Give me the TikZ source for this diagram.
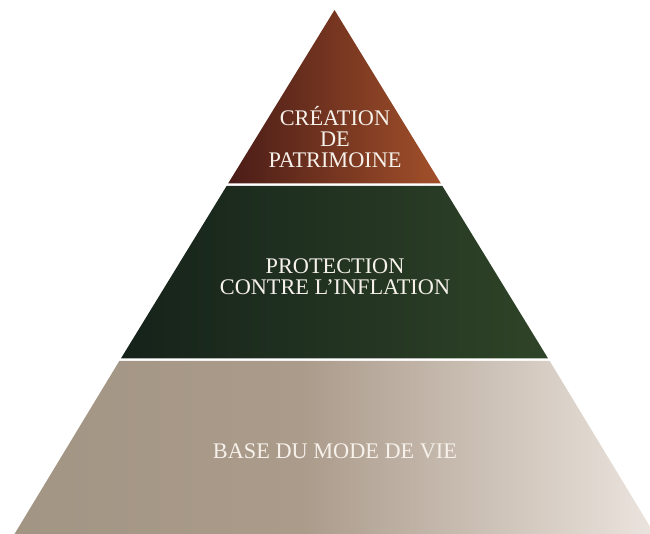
\documentclass[tikz,border=0pt]{standalone}
\usepackage{fontspec}
\setmainfont{Liberation Serif}
\definecolor{topL}{HTML}{4A1C17}
\definecolor{topR}{HTML}{A2502A}
\definecolor{midL}{HTML}{15221A}
\definecolor{midR}{HTML}{2F4428}
\definecolor{botL}{HTML}{A29584}
\definecolor{botM}{HTML}{AB9B8B}
\definecolor{botR}{HTML}{EBE4DE}
\definecolor{txt}{HTML}{F6F1EA}
\pgfdeclarehorizontalshading{topshade}{100bp}{color(0bp)=(topL); color(25bp)=(topL); color(75bp)=(topR); color(100bp)=(topR)}
\pgfdeclarehorizontalshading{midshade}{100bp}{color(0bp)=(midL); color(25bp)=(midL); color(75bp)=(midR); color(100bp)=(midR)}
\pgfdeclarehorizontalshading{botshade}{100bp}{color(0bp)=(botL); color(25bp)=(botL); color(47.5bp)=(botM); color(75bp)=(botR); color(100bp)=(botR)}
\begin{document}
\begin{tikzpicture}[x=1pt,y=1pt,
  label/.style={text=txt, align=center, font=\fontsize{22.3}{21}\selectfont, inner sep=0pt}]
\useasboundingbox (0,0) rectangle (650,533);
\clip (0,0) rectangle (650,533);
% tiers (y flipped: Y = 533 - y)
\shade[shading=topshade] (334.5,523) -- (228.1,349.5) -- (440.9,349.5) -- cycle;
\shade[shading=midshade] (226.6,347) -- (442.4,347) -- (548.1,174.5) -- (120.9,174.5) -- cycle;
\shade[shading=botshade] (119.3,172) -- (549.7,172) -- (655.1,-2) -- (13.9,-2) -- cycle;
% labels
\node[label] (top) at (335,395.5) {CRÉATION\\DE\\PATRIMOINE};
\node[label] (mid) at (335,256.5) {PROTECTION\\CONTRE L’INFLATION};
\node[label] (bot) at (335,81.5) {BASE DU MODE DE VIE};
\end{tikzpicture}
\end{document}
